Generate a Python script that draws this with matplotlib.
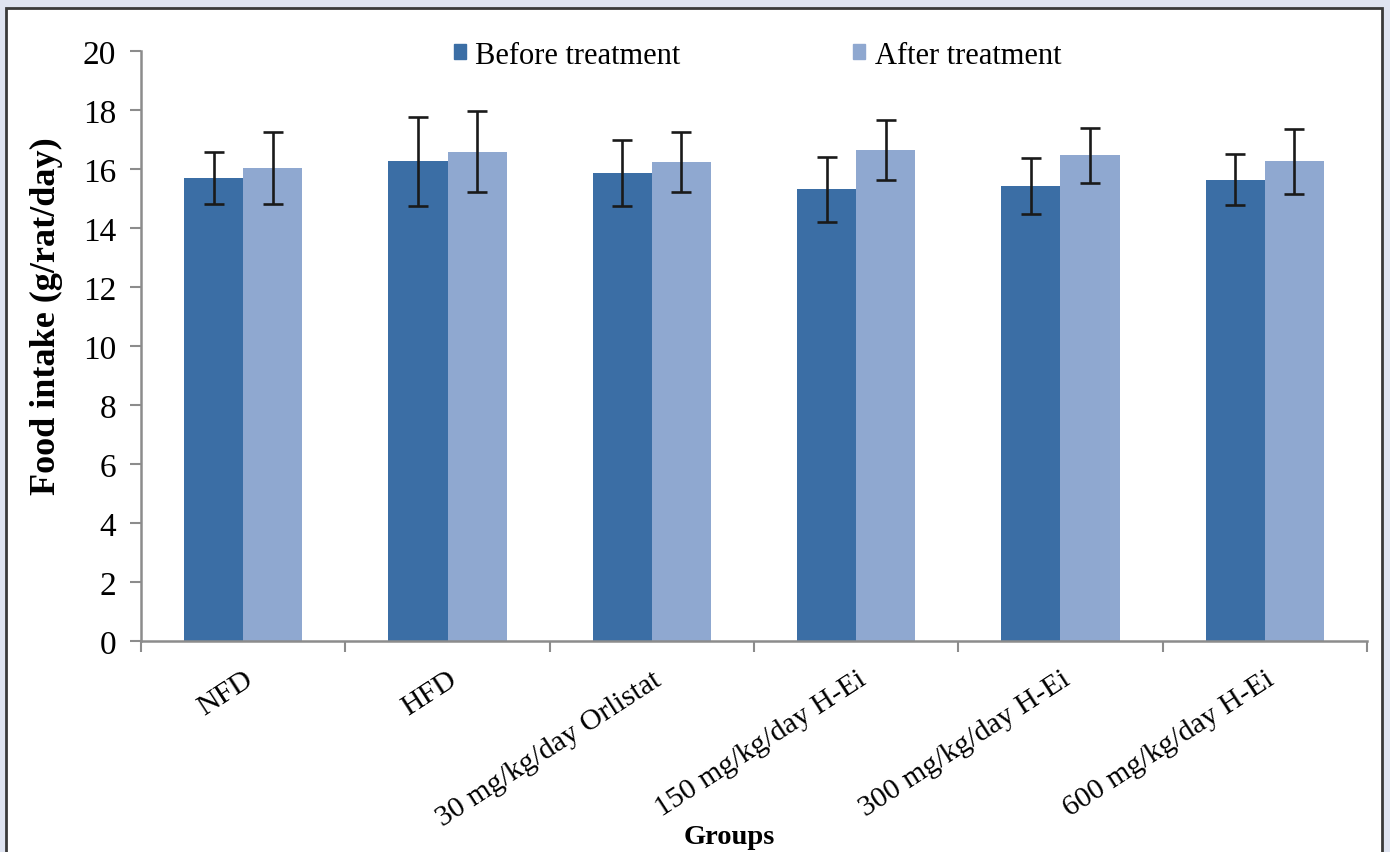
import numpy as np
import matplotlib.pyplot as plt
from matplotlib.patches import Rectangle, Patch

groups = ['NFD', 'HFD', '30 mg/kg/day Orlistat', '150 mg/kg/day H-Ei',
          '300 mg/kg/day H-Ei', '600 mg/kg/day H-Ei']
before = [15.7, 16.26, 15.85, 15.31, 15.43, 15.64]
before_err = [0.87, 1.5, 1.12, 1.1, 0.95, 0.86]
after = [16.02, 16.59, 16.24, 16.64, 16.46, 16.26]
after_err = [1.22, 1.37, 1.03, 1.01, 0.92, 1.11]

plt.rcParams['font.family'] = ['Liberation Serif', 'DejaVu Serif']

fig = plt.figure(figsize=(13.9, 8.53), dpi=100, facecolor='#dfe4f1')
# white inner panel with dark frame
fig.patches.append(Rectangle((6 / 1390, -0.05), 1376 / 1390, 1 - 9 / 853 + 0.05,
                             transform=fig.transFigure, facecolor='white',
                             edgecolor='#3a3a3a', lw=2, zorder=-10))

ax = fig.add_axes([141 / 1390, 1 - 642 / 853, 1226 / 1390, 590 / 853])
ax.set_facecolor('none')

x = np.arange(len(groups))
w = 0.29
ekw = dict(ecolor='#1a1a1a', elinewidth=1.9, capsize=7, capthick=1.9)
ax.bar(x - w / 2, before, w, yerr=before_err, color='#3b6ea5', error_kw=ekw,
       label='Before treatment')
ax.bar(x + w / 2, after, w, yerr=after_err, color='#8fa8d0', error_kw=ekw,
       label='After treatment')

ax.set_xlim(-0.5, len(groups) - 0.5)
ax.set_ylim(0, 20)
ax.set_yticks(np.arange(0, 21, 2))

ax.set_xticks(x)
ax.set_xticklabels(groups, rotation=33, ha='right', va='top',
                   rotation_mode='anchor', fontsize=21.5)
ax.tick_params(axis='x', which='major', length=0, pad=18)
ax.set_xticks(np.arange(-0.5, len(groups)), minor=True)
ax.tick_params(axis='x', which='minor', length=8, width=1.5, color='#8c8c8c',
               direction='out')
ax.tick_params(axis='y', length=8, width=1.5, color='#8c8c8c', pad=10,
               labelsize=24)

for s in ['top', 'right']:
    ax.spines[s].set_visible(False)
for s in ['left', 'bottom']:
    ax.spines[s].set_color('#8c8c8c')
    ax.spines[s].set_linewidth(1.8)

ax.set_ylabel('Food intake (g/rat/day)', fontsize=26, fontweight='bold')
ax.yaxis.set_label_coords(-0.064, 0.553)
fig.text(729 / 1390, 1 - 838 / 853, 'Groups', fontsize=20.5, fontweight='bold',
         ha='center', va='center')

handles = [Patch(color='#3b6ea5'), Patch(color='#8fa8d0')]
fig.legend(handles, ['Before treatment', 'After treatment'], ncol=2,
           loc='center', bbox_to_anchor=(757.5 / 1390, 1 - 56 / 853),
           frameon=False, fontsize=22, handlelength=0.4, handleheight=0.4,
           handletextpad=0.3, columnspacing=5.65)

plt.savefig('out.png', dpi=100, facecolor=fig.get_facecolor())
